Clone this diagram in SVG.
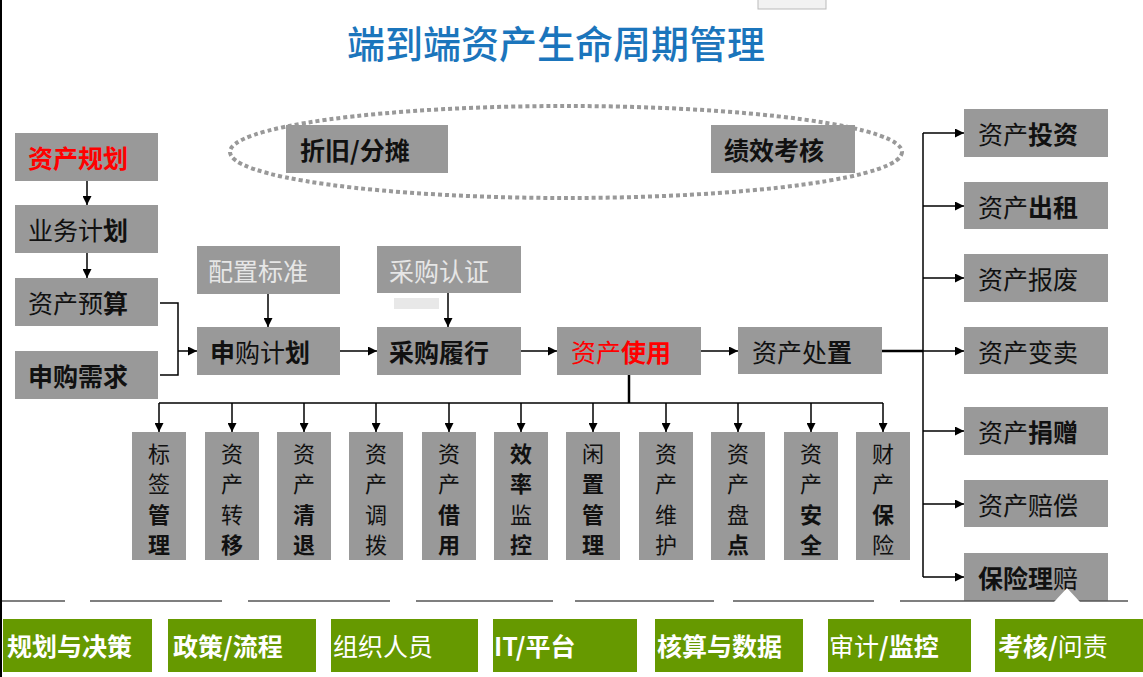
<svg xmlns="http://www.w3.org/2000/svg" width="1143" height="677" viewBox="0 0 1143 677">
<style>
text{font-family:"Noto Sans CJK SC","Liberation Sans",sans-serif;dominant-baseline:central}
.box{fill:#999999}
.g{fill:#669900}
.t{font-size:25px;fill:#111}
.v{font-size:22px;fill:#111;text-anchor:middle}
.w{font-size:25px;fill:#fff}
.lt{fill:#e6e6e6}
.red{fill:#ff0000}
.b{font-weight:bold}
.n{font-weight:normal}
.c{stroke:#000;stroke-width:1.5;fill:none}
.c2{stroke:#000;stroke-width:2.5;fill:none}
.a{marker-end:url(#ah)}
.sep{stroke:#555;stroke-width:1.5}
</style>
<defs>
<marker id="ah" viewBox="0 0 10 10" refX="10" refY="5" markerWidth="9" markerHeight="9" markerUnits="userSpaceOnUse" orient="auto">
<path d="M0,0 L10,5 L0,10 z" fill="#000"/>
</marker>
</defs>
<rect width="1143" height="677" fill="#fff"/>
<line x1="1" y1="0" x2="1" y2="677" stroke="#000" stroke-width="2"/>
<g id="toolbar"><rect x="758" y="-1" width="68" height="10" fill="#f2f2f2" stroke="#bbb"/></g>
<g id="title"><text x="556" y="41" text-anchor="middle" font-size="38" font-weight="500" fill="#1b75bc">端到端资产生命周期管理</text></g>

<g id="ellipse"><ellipse cx="566" cy="152" rx="336" ry="46" fill="none" stroke="#999" stroke-width="4" stroke-dasharray="4 3"/></g>
<g id="n-zhejiu"><rect class="box" x="286" y="125" width="162" height="48"/><text class="t b" x="300" y="149">折旧/分摊</text></g>
<g id="n-jixiao"><rect class="box" x="711" y="125" width="144" height="48"/><text class="t b" x="724" y="149">绩效考核</text></g>

<g id="n-guihua"><rect class="box" x="15" y="133" width="143" height="48"/><text class="t b red" x="28" y="157">资产规划</text></g>
<g id="n-yewu"><rect class="box" x="15" y="205" width="143" height="48"/><text class="t" x="28" y="229">业务计<tspan class="b">划</tspan></text></g>
<g id="n-yusuan"><rect class="box" x="15" y="278" width="143" height="48"/><text class="t" x="28" y="302">资产预<tspan class="b">算</tspan></text></g>
<g id="n-xuqiu"><rect class="box" x="15" y="351" width="143" height="48"/><text class="t b" x="28" y="375">申购需求</text></g>

<g id="n-peizhi"><rect class="box" x="197" y="246" width="143" height="48"/><text class="t lt" x="208" y="270">配置标准</text></g>
<g id="n-jihua"><rect class="box" x="197" y="327" width="143" height="48"/><text class="t" x="210" y="351"><tspan class="b">申</tspan>购计<tspan class="b">划</tspan></text></g>
<g id="n-renzheng"><rect class="box" x="377" y="246" width="144" height="47"/><text class="t lt" x="389" y="270">采购认证</text><rect x="394" y="298" width="45" height="11" fill="#e8e8e8"/></g>
<g id="n-lvxing"><rect class="box" x="377" y="327" width="144" height="48"/><text class="t b" x="389" y="351">采购履行</text></g>
<g id="n-shiyong"><rect class="box" x="557" y="327" width="144" height="48"/><text class="t red" x="571" y="351">资产<tspan class="b">使用</tspan></text></g>
<g id="n-chuzhi"><rect class="box" x="738" y="327" width="144" height="47"/><text class="t" x="752" y="351">资产处<tspan class="b">置</tspan></text></g>

<g id="n-touzi"><rect class="box" x="964" y="109" width="144" height="48"/><text class="t" x="978" y="133">资产<tspan class="b">投资</tspan></text></g>
<g id="n-chuzu"><rect class="box" x="964" y="182" width="144" height="47"/><text class="t" x="978" y="206">资产<tspan class="b">出租</tspan></text></g>
<g id="n-baofei"><rect class="box" x="964" y="254" width="144" height="48"/><text class="t" x="978" y="278">资产报废</text></g>
<g id="n-bianmai"><rect class="box" x="964" y="327" width="144" height="47"/><text class="t" x="978" y="351">资产变卖</text></g>
<g id="n-juanzeng"><rect class="box" x="964" y="407" width="144" height="48"/><text class="t" x="978" y="431">资产<tspan class="b">捐赠</tspan></text></g>
<g id="n-peichang"><rect class="box" x="964" y="480" width="144" height="47"/><text class="t" x="978" y="504">资产赔偿</text></g>
<g id="n-lipei"><rect class="box" x="964" y="553" width="144" height="48"/><text class="t" x="978" y="577"><tspan class="b">保险理</tspan>赔</text></g>

<g id="n-v1"><rect class="box" x="132" y="432" width="54" height="128"/><text class="v" x="159"><tspan x="159" y="452">标</tspan><tspan x="159" y="482">签</tspan><tspan class="b" x="159" y="513">管</tspan><tspan class="b" x="159" y="543">理</tspan></text></g>
<g id="n-v2"><rect class="box" x="205" y="432" width="54" height="128"/><text class="v" x="232"><tspan x="232" y="452">资</tspan><tspan x="232" y="482">产</tspan><tspan x="232" y="513">转</tspan><tspan class="b" x="232" y="543">移</tspan></text></g>
<g id="n-v3"><rect class="box" x="277" y="432" width="54" height="128"/><text class="v" x="304"><tspan x="304" y="452">资</tspan><tspan x="304" y="482">产</tspan><tspan class="b" x="304" y="513">清</tspan><tspan class="b" x="304" y="543">退</tspan></text></g>
<g id="n-v4"><rect class="box" x="349" y="432" width="54" height="128"/><text class="v" x="376"><tspan x="376" y="452">资</tspan><tspan x="376" y="482">产</tspan><tspan x="376" y="513">调</tspan><tspan x="376" y="543">拨</tspan></text></g>
<g id="n-v5"><rect class="box" x="422" y="432" width="54" height="128"/><text class="v" x="449"><tspan x="449" y="452">资</tspan><tspan x="449" y="482">产</tspan><tspan class="b" x="449" y="513">借</tspan><tspan class="b" x="449" y="543">用</tspan></text></g>
<g id="n-v6"><rect class="box" x="494" y="432" width="54" height="128"/><text class="v" x="521"><tspan class="b" x="521" y="452">效</tspan><tspan class="b" x="521" y="482">率</tspan><tspan x="521" y="513">监</tspan><tspan class="b" x="521" y="543">控</tspan></text></g>
<g id="n-v7"><rect class="box" x="566" y="432" width="54" height="128"/><text class="v" x="593"><tspan x="593" y="452">闲</tspan><tspan class="b" x="593" y="482">置</tspan><tspan class="b" x="593" y="513">管</tspan><tspan class="b" x="593" y="543">理</tspan></text></g>
<g id="n-v8"><rect class="box" x="639" y="432" width="54" height="128"/><text class="v" x="666"><tspan x="666" y="452">资</tspan><tspan x="666" y="482">产</tspan><tspan x="666" y="513">维</tspan><tspan x="666" y="543">护</tspan></text></g>
<g id="n-v9"><rect class="box" x="711" y="432" width="54" height="128"/><text class="v" x="738"><tspan x="738" y="452">资</tspan><tspan x="738" y="482">产</tspan><tspan x="738" y="513">盘</tspan><tspan class="b" x="738" y="543">点</tspan></text></g>
<g id="n-v10"><rect class="box" x="784" y="432" width="54" height="128"/><text class="v" x="811"><tspan x="811" y="452">资</tspan><tspan x="811" y="482">产</tspan><tspan class="b" x="811" y="513">安</tspan><tspan class="b" x="811" y="543">全</tspan></text></g>
<g id="n-v11"><rect class="box" x="856" y="432" width="54" height="128"/><text class="v" x="883"><tspan x="883" y="452">财</tspan><tspan x="883" y="482">产</tspan><tspan class="b" x="883" y="513">保</tspan><tspan x="883" y="543">险</tspan></text></g>

<g id="connectors">
<line class="c a" x1="87" y1="181" x2="87" y2="205"/>
<line class="c a" x1="87" y1="253" x2="87" y2="278"/>
<polyline class="c" points="160,303 178,303 178,375 160,375"/>
<line class="c a" x1="178" y1="351" x2="197" y2="351"/>
<line class="c a" x1="268" y1="294" x2="268" y2="327"/>
<line class="c a" x1="448" y1="293" x2="448" y2="327"/>
<line class="c a" x1="340" y1="351" x2="377" y2="351"/>
<line class="c a" x1="521" y1="351" x2="557" y2="351"/>
<line class="c a" x1="701" y1="351" x2="738" y2="351"/>
<line class="c2" x1="629" y1="375" x2="629" y2="403"/>
<line class="c" x1="159" y1="403" x2="883" y2="403" stroke-width="2"/>
<line class="c a" x1="159" y1="403" x2="159" y2="432"/>
<line class="c a" x1="232" y1="403" x2="232" y2="432"/>
<line class="c a" x1="304" y1="403" x2="304" y2="432"/>
<line class="c a" x1="376" y1="403" x2="376" y2="432"/>
<line class="c a" x1="449" y1="403" x2="449" y2="432"/>
<line class="c a" x1="521" y1="403" x2="521" y2="432"/>
<line class="c a" x1="593" y1="403" x2="593" y2="432"/>
<line class="c a" x1="666" y1="403" x2="666" y2="432"/>
<line class="c a" x1="738" y1="403" x2="738" y2="432"/>
<line class="c a" x1="811" y1="403" x2="811" y2="432"/>
<line class="c a" x1="883" y1="403" x2="883" y2="432"/>
<line class="c2" x1="882" y1="351" x2="923" y2="351"/>
<line class="c" x1="923" y1="133" x2="923" y2="577"/>
<line class="c a" x1="923" y1="133" x2="964" y2="133"/>
<line class="c a" x1="923" y1="206" x2="964" y2="206"/>
<line class="c a" x1="923" y1="278" x2="964" y2="278"/>
<line class="c a" x1="923" y1="351" x2="964" y2="351"/>
<line class="c a" x1="923" y1="431" x2="964" y2="431"/>
<line class="c a" x1="923" y1="504" x2="964" y2="504"/>
<line class="c a" x1="923" y1="577" x2="964" y2="577"/>
</g>

<g id="separators">
<line class="sep" x1="2" y1="601" x2="65" y2="601"/>
<line class="sep" x1="90" y1="601" x2="222" y2="601"/>
<line class="sep" x1="248" y1="601" x2="390" y2="601"/>
<line class="sep" x1="416" y1="601" x2="553" y2="601"/>
<line class="sep" x1="575" y1="601" x2="714" y2="601"/>
<line class="sep" x1="733" y1="601" x2="874" y2="601"/>
<line class="sep" x1="900" y1="601" x2="1128" y2="601"/>
<polygon points="1054,602 1067,588 1080,602" fill="#fff"/>
</g>

<g id="b1"><rect class="g" x="3" y="619" width="149" height="53"/><text class="w b" x="7" y="645">规划与决策</text></g>
<g id="b2"><rect class="g" x="168" y="619" width="148" height="53"/><text class="w b" x="173" y="645">政策/流程</text></g>
<g id="b3"><rect class="g" x="331" y="619" width="147" height="53"/><text class="w" x="333" y="645">组织人员</text></g>
<g id="b4"><rect class="g" x="493" y="619" width="144" height="53"/><text class="w b" x="494" y="645">IT/平台</text></g>
<g id="b5"><rect class="g" x="655" y="619" width="148" height="53"/><text class="w b" x="657" y="645">核算与数据</text></g>
<g id="b6"><rect class="g" x="828" y="619" width="143" height="53"/><text class="w" x="829" y="645">审计<tspan class="b">/监控</tspan></text></g>
<g id="b7"><rect class="g" x="995" y="619" width="148" height="53"/><text class="w" x="998" y="645"><tspan class="b">考核/</tspan>问责</text></g>
</svg>
